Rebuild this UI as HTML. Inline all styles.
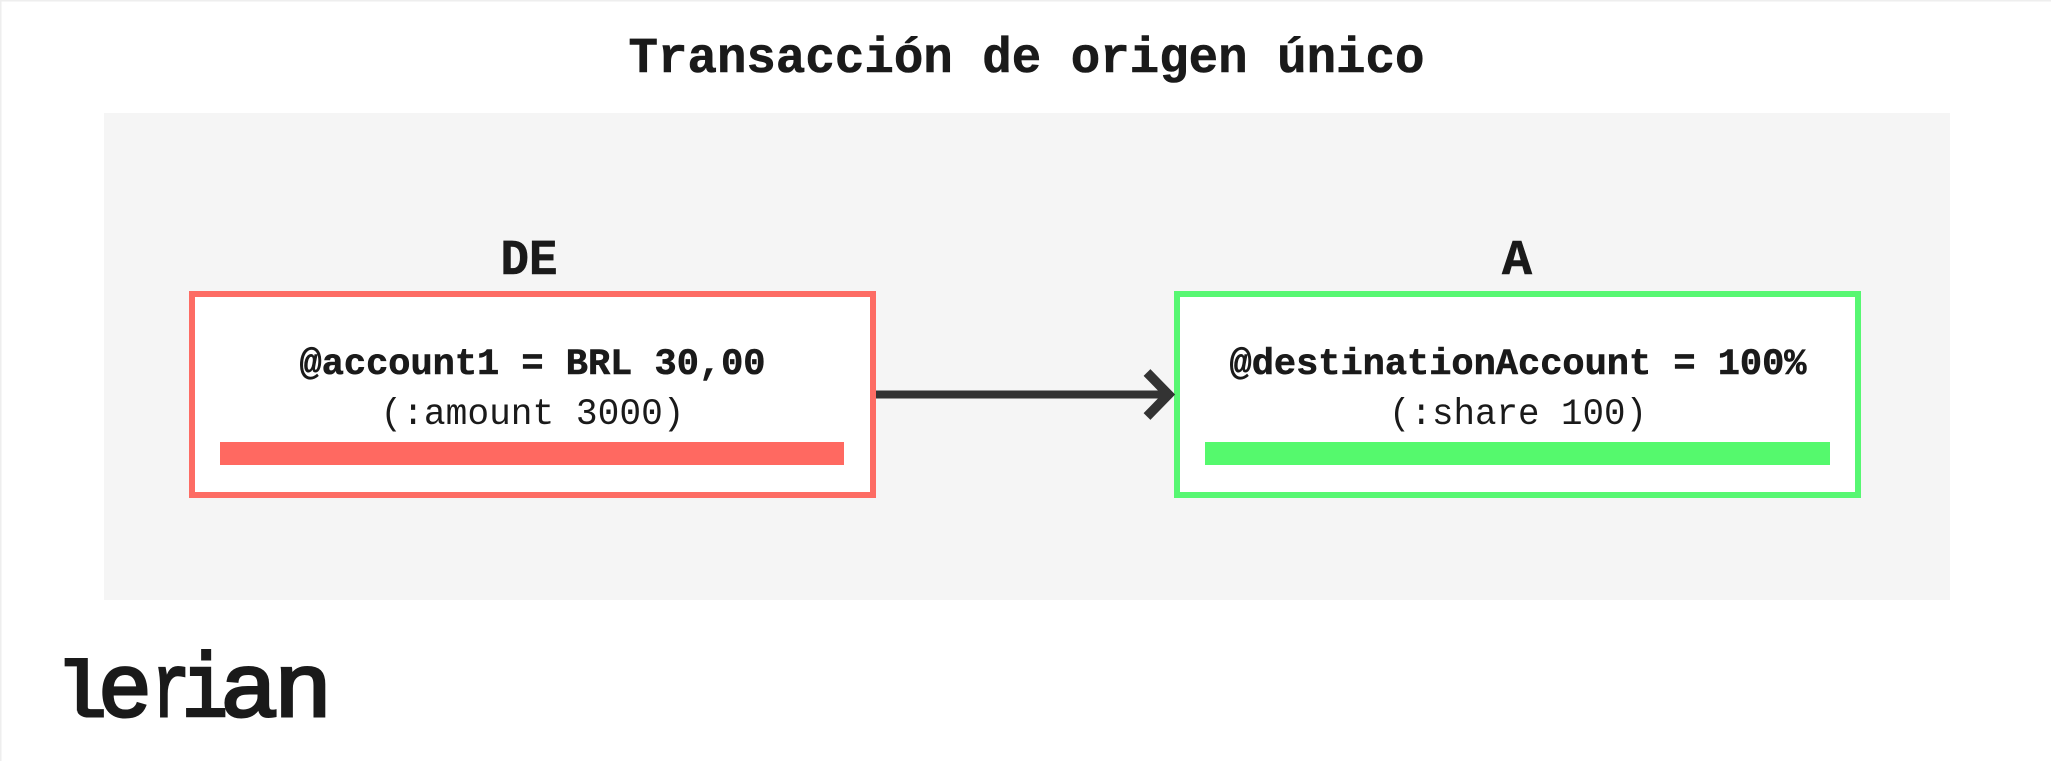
<!DOCTYPE html>
<html lang="es">
<head>
<meta charset="utf-8">
<title>Transacción de origen único</title>
<style>
html,body{margin:0;padding:0;background:#fff;width:2051px;height:761px;overflow:hidden}
svg{display:block}
text{font-family:"Liberation Mono",monospace;fill:#1a1a1a;text-anchor:middle}
.b{font-weight:700;stroke:#1a1a1a;stroke-width:.6px}
.logo{text-anchor:start;font-size:90px;stroke:#1a1a1a;stroke-width:3px}
.s{font-family:"Liberation Sans",sans-serif}
</style>
</head>
<body>
<svg width="2051" height="761" viewBox="0 0 2051 761" xmlns="http://www.w3.org/2000/svg">
  <rect x="0" y="0" width="2051" height="761" fill="#fff"/>
  <rect x="0" y="0" width="2051" height="1.5" fill="#eeeeee"/>
  <rect x="0" y="0" width="1.5" height="761" fill="#eeeeee"/>
  <rect x="104" y="113" width="1846" height="487" fill="#f5f5f5"/>

  <text class="b" x="1026.5" y="72" font-size="50" textLength="796" lengthAdjust="spacingAndGlyphs">Transacción de origen único</text>

  <text class="b" x="529" y="274" font-size="50" textLength="57" lengthAdjust="spacingAndGlyphs">DE</text>
  <text class="b" x="1517" y="274" font-size="50">A</text>

  <rect x="192" y="294" width="681" height="201" fill="#ffffff" stroke="#fd6c64" stroke-width="6"/>
  <rect x="220" y="442" width="624" height="23" fill="#ff6961"/>
  <text class="b" x="532.5" y="374" font-size="37" textLength="466" lengthAdjust="spacingAndGlyphs">@account1 = BRL 30,00</text>
  <text x="532.5" y="424" font-size="37" textLength="304" lengthAdjust="spacingAndGlyphs">(:amount 3000)</text>

  <rect x="1177" y="294" width="681" height="201" fill="#ffffff" stroke="#57f772" stroke-width="6"/>
  <rect x="1205" y="442" width="625" height="23" fill="#55f96d"/>
  <text class="b" x="1518" y="374" font-size="37" textLength="577" lengthAdjust="spacingAndGlyphs">@destinationAccount = 100%</text>
  <text x="1518" y="424" font-size="37" textLength="258" lengthAdjust="spacingAndGlyphs">(:share 100)</text>

  <line x1="876" y1="394.5" x2="1170" y2="394.5" stroke="#333333" stroke-width="8"/>
  <polyline points="1147,372.5 1168.5,394.5 1147,416.5" fill="none" stroke="#333333" stroke-width="9.5"/>

  <text class="logo" y="716"><tspan x="55" font-size="78" textLength="52" lengthAdjust="spacingAndGlyphs">l</tspan><tspan class="s" x="100" textLength="50" lengthAdjust="spacingAndGlyphs">e</tspan><tspan x="152" textLength="38" lengthAdjust="spacingAndGlyphs">r</tspan><tspan x="182" textLength="46" lengthAdjust="spacingAndGlyphs">i</tspan><tspan class="s" x="222" textLength="53" lengthAdjust="spacingAndGlyphs">a</tspan><tspan class="s" x="276" textLength="54" lengthAdjust="spacingAndGlyphs">n</tspan></text>
</svg>
</body>
</html>
